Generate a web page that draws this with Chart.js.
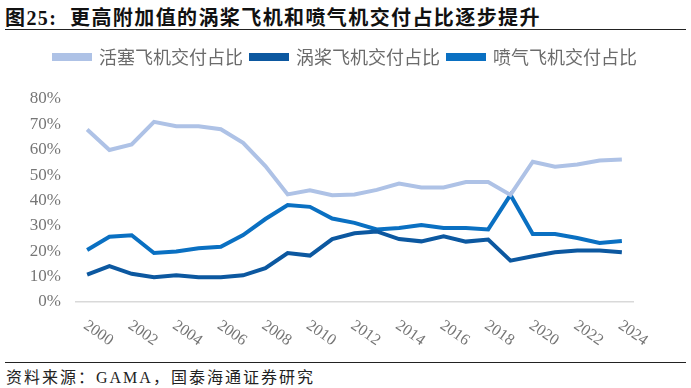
<!DOCTYPE html>
<html>
<head>
<meta charset="utf-8">
<script src="https://cdn.jsdelivr.net/npm/chart.js@4.4.1/dist/chart.umd.min.js"></script>
<style>
    html, body { margin: 0; padding: 0; background: #fff; }
    body { width: 691px; height: 388px; position: relative; overflow: hidden; }
    .title {
        position: absolute; left: 5px; top: 2px;
        font-family: "Liberation Serif", "Noto Sans CJK SC", serif;
        font-weight: bold; font-size: 20px; letter-spacing: 1.4px; color: #111;
        white-space: nowrap;
    }
    .rule { position: absolute; left: 5px; width: 681px; border-top: 1.5px solid #222; }
    .source {
        position: absolute; left: 6px; top: 364px;
        font-family: "Liberation Serif", "Noto Sans CJK SC", serif;
        font-size: 16px; letter-spacing: 2px; color: #222; white-space: nowrap;
    }
    .wrap { position: absolute; left: 0; top: 40px; width: 691px; height: 316px; }
</style>
</head>
<body>
<div class="title">图25:&nbsp;&nbsp;更高附加值的涡桨飞机和喷气机交付占比逐步提升</div>
<div class="rule" style="top: 29px;"></div>
<div class="wrap"><canvas id="shareChart"></canvas></div>
<div class="rule" style="top: 362px;"></div>
<div class="source">资料来源：GAMA，国泰海通证券研究</div>

<script>
// 年份
const years = ['2000', '2001', '2002', '2003', '2004', '2005', '2006', '2007', '2008', '2009',
    '2010', '2011', '2012', '2013', '2014', '2015', '2016', '2017', '2018', '2019',
    '2020', '2021', '2022', '2023', '2024'];

// 交付占比 (%)
const pistonShare = [68.0, 59.9, 62.1, 71.0, 69.3, 69.3, 68.1, 62.7, 53.6, 42.4,
    44.0, 42.1, 42.4, 44.2, 46.7, 45.1, 45.1, 47.3, 47.3, 42.2,
    55.3, 53.3, 54.2, 55.8, 56.2];
const turbopropShare = [10.8, 14.1, 11.1, 9.8, 10.5, 9.8, 9.8, 10.5, 13.3, 19.3,
    18.3, 24.8, 27.1, 27.8, 24.8, 23.9, 25.9, 23.8, 24.6, 16.3,
    18.0, 19.6, 20.3, 20.3, 19.6];
const jetShare = [20.5, 25.7, 26.3, 19.3, 19.9, 21.2, 21.8, 26.4, 32.7, 38.2,
    37.5, 32.9, 31.2, 28.6, 29.2, 30.3, 29.2, 29.2, 28.6, 42.2,
    26.8, 26.8, 25.2, 23.3, 24.0];

const seriesNames = ['活塞飞机交付占比', '涡桨飞机交付占比', '喷气飞机交付占比'];
const seriesColors = ['#AEC2E6', '#0C58A0', '#0A70C2'];

const yTicks = [0, 10, 20, 30, 40, 50, 60, 70, 80];

// 图例下方留出更多空白, 并在整个画布上居中
const legendGap = {
    id: 'legendGap',
    beforeLayout(chart) {
        const legend = chart.legend;
        if (!legend || legend._gapPatched) return;
        const fit = legend.fit;
        legend.fit = function () {
            fit.call(this);
            this.height += 23;
        };
        legend._gapPatched = true;
    },
    afterLayout(chart) {
        if (chart.legend) chart.legend.right = chart.width;
    }
};

// x轴标签倾斜向右下, 每两年一个
const slantedYears = {
    id: 'slantedYears',
    afterDraw(chart) {
        const xScale = chart.scales.x;
        const ctx = chart.ctx;
        ctx.save();
        ctx.font = '16px "Liberation Serif", serif';
        ctx.fillStyle = '#767676';
        ctx.textAlign = 'left';
        ctx.textBaseline = 'middle';
        years.forEach((yr, i) => {
            if (Number(yr) % 2 !== 0) return;
            const x = xScale.getPixelForValue(i);
            ctx.save();
            ctx.translate(x - 2, xScale.top + 22);
            ctx.rotate(35 * Math.PI / 180);
            ctx.fillText(yr, 0, 0);
            ctx.restore();
        });
        ctx.restore();
    }
};

const datasets = [pistonShare, turbopropShare, jetShare].map((values, k) => ({
    label: seriesNames[k],
    data: values,
    borderColor: seriesColors[k],
    backgroundColor: seriesColors[k],
    borderWidth: 4,
    pointRadius: 0,
    tension: 0,
    fill: false
}));

new Chart(document.getElementById('shareChart').getContext('2d'), {
    type: 'line',
    data: { labels: years, datasets: datasets },
    plugins: [legendGap, slantedYears],
    options: {
        responsive: true,
        maintainAspectRatio: false,
        animation: false,
        layout: { padding: { left: 0, right: 58, top: 0, bottom: 54 } },
        plugins: {
            legend: {
                position: 'top',
                labels: {
                    boxWidth: 36,
                    boxHeight: 4,
                    padding: 8,
                    color: '#6b6b6b',
                    font: { family: '"Noto Sans CJK SC", sans-serif', size: 18 }
                }
            },
            tooltip: { enabled: false }
        },
        scales: {
            x: {
                offset: true,
                grid: { display: false, drawTicks: false },
                border: { display: true, color: '#D9D9D9', width: 1.5 },
                ticks: { display: false }
            },
            y: {
                min: 0,
                max: 80,
                afterBuildTicks: scale => { scale.ticks = yTicks.map(v => ({ value: v })); },
                afterFit: scale => { scale.width = 76; },
                grid: { display: false, drawTicks: false },
                border: { display: false },
                ticks: {
                    padding: 15,
                    color: '#767676',
                    font: { family: '"Liberation Serif", serif', size: 17 },
                    callback: v => v + '%'
                }
            }
        }
    }
});
</script>
</body>
</html>
